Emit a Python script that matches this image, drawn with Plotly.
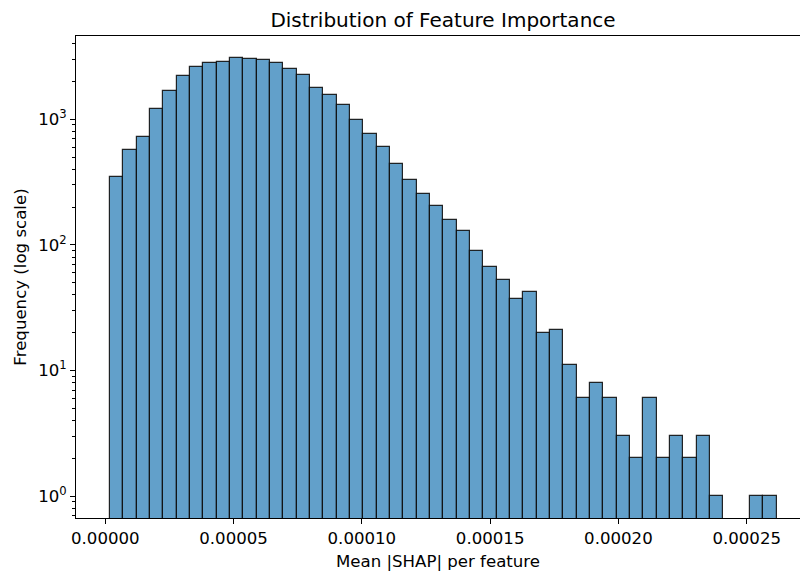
import plotly.graph_objects as go

# Histogram of mean |SHAP| per feature: 50 equal-width bins
bin_lo = 1.83e-6
bin_hi = 2.617e-4
n_bins = 50
counts = [346, 570, 723, 1207, 1687, 2208, 2618, 2803, 2853, 3069,
          3015, 2943, 2810, 2497, 2263, 1783, 1569, 1300, 982, 769,
          603, 441, 331, 255, 205, 157, 130, 89, 67, 53,
          37, 42, 20, 21, 11, 6, 8, 6, 3, 2,
          6, 2, 3, 2, 3, 1, 0, 0, 1, 1]

x_tickvals = [0.0, 0.00005, 0.0001, 0.00015, 0.0002, 0.00025]
y_tickvals = [1, 10, 100, 1000]
y_ticktext = ["10<sup>0</sup>", "10<sup>1</sup>", "10<sup>2</sup>", "10<sup>3</sup>"]

bin_w = (bin_hi - bin_lo) / n_bins
centers = [bin_lo + bin_w * (i + 0.5) for i in range(n_bins)]
heights = [c if c > 0 else None for c in counts]

minor_vals = [m * 10 ** e for e in range(-1, 4) for m in range(2, 10)]

FONT = "DejaVu Sans"
TXT = 16.6

fig = go.Figure(
    go.Bar(
        x=centers,
        y=heights,
        width=bin_w,
        marker=dict(color="rgba(31,119,180,0.7)",
                    line=dict(color="rgba(15,15,15,0.9)", width=1.2)),
        hoverinfo="skip",
    )
)

fig.update_layout(
    width=800,
    height=572,
    margin=dict(l=76, r=0, t=36, b=53.5),
    plot_bgcolor="white",
    paper_bgcolor="white",
    bargap=0,
    showlegend=False,
    font=dict(family=FONT, size=TXT, color="black"),
    title=dict(
        text="Distribution of Feature Importance",
        font=dict(family=FONT, size=20, color="black"),
        x=443 / 800,
        xref="container",
        xanchor="center",
        y=1 - 20 / 572,
        yref="container",
        yanchor="middle",
    ),
    xaxis=dict(
        range=[-1.142e-5, 2.7077e-4],
        tickvals=x_tickvals,
        tickformat=".5f",
        ticks="outside",
        ticklen=4.9,
        tickwidth=1.1,
        tickcolor="black",
        showline=True,
        linecolor="black",
        linewidth=1.1,
        mirror=True,
        showgrid=False,
        zeroline=False,
        tickfont=dict(family=FONT, size=TXT, color="black"),
        title=dict(text="Mean |SHAP| per feature",
                   font=dict(family=FONT, size=TXT, color="black"),
                   standoff=8),
    ),
    yaxis=dict(
        type="log",
        range=[-0.1733, 3.662],
        tickvals=y_tickvals,
        ticktext=y_ticktext,
        ticks="outside",
        ticklen=4.9,
        tickwidth=1.1,
        tickcolor="black",
        minor=dict(tickvals=minor_vals, ticks="outside", ticklen=2.8,
                   tickwidth=0.8, tickcolor="black", showgrid=False),
        showline=True,
        linecolor="black",
        linewidth=1.1,
        mirror=False,
        showgrid=False,
        zeroline=False,
        tickfont=dict(family=FONT, size=TXT, color="black"),
        title=dict(text="Frequency (log scale)",
                   font=dict(family=FONT, size=TXT, color="black"),
                   standoff=7),
    ),
)

fig.write_html("out.html")
